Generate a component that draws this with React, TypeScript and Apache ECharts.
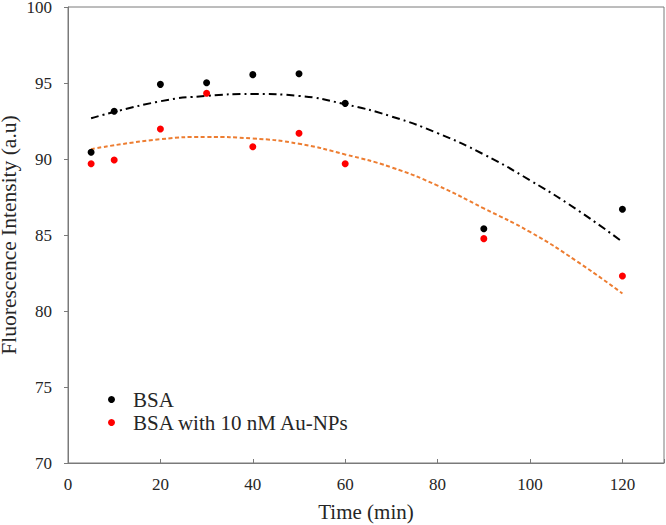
import React, { useEffect, useRef } from "react";
import * as echarts from "echarts";

const times = [5, 10, 20, 30, 40, 50, 60, 90, 120];
const bsaValues = [90.44, 93.14, 94.91, 95.02, 95.55, 95.61, 93.66, 85.41, 86.69];
const auValues = [89.69, 89.93, 91.97, 94.32, 90.81, 91.69, 89.69, 84.76, 82.3];

const trendTimes = [5, 20, 30, 40, 50, 60, 70, 80, 90, 100, 110, 120];
const bsaTrend = [92.68, 93.8, 94.15, 94.28, 94.15, 93.6, 92.8, 91.7, 90.3, 88.6, 86.7, 84.55];
const auTrend = [90.65, 91.3, 91.45, 91.35, 91.0, 90.3, 89.45, 88.25, 86.75, 85.2, 83.3, 81.15];

const seriesNames = ["BSA", "BSA with 10 nM Au-NPs"];
const xTitle = "Time (min)";
const yTitle = "Fluorescence Intensity (a.u)";

const FONT = "'Liberation Serif', 'Times New Roman', serif";
const TEXT = "#262626";
const AXIS = "#7a7a7a";

export default function App() {
  const ref = useRef<HTMLDivElement>(null);
  useEffect(() => {
    if (!ref.current) return;
    const chart = echarts.init(ref.current, undefined, { renderer: "svg" });
    const pair = (xs: number[], ys: number[]) => xs.map((x, i) => [x, ys[i]]);
    chart.setOption({
      animation: false,
      backgroundColor: "#ffffff",
      textStyle: { fontFamily: FONT },
      grid: {
        left: 68,
        top: 7,
        right: 2,
        bottom: 62,
        containLabel: false,
        outerBoundsMode: "none",
        show: true,
        borderColor: AXIS,
        borderWidth: 1,
      },
      legend: {
        data: seriesNames,
        orient: "vertical",
        left: 103,
        top: 384,
        itemWidth: 7,
        itemHeight: 7,
        itemGap: 2,
        icon: "circle",
        textStyle: {
          fontFamily: FONT,
          fontSize: 21,
          color: TEXT,
          padding: [0, 0, 0, 13],
          lineHeight: 19,
        },
      },
      xAxis: {
        type: "value",
        min: 0,
        max: 129,
        interval: 20,
        name: xTitle,
        nameLocation: "middle",
        nameGap: 38,
        nameMoveOverlap: false,
        nameTextStyle: { fontFamily: FONT, fontSize: 21, color: TEXT },
        axisLine: { lineStyle: { color: AXIS, width: 1 } },
        axisTick: { inside: true, length: 4, lineStyle: { color: AXIS } },
        axisLabel: {
          margin: 13,
          fontFamily: FONT,
          fontSize: 17,
          color: TEXT,
          formatter: (v: number) => (v % 20 === 0 ? String(v) : ""),
        },
        splitLine: { show: false },
      },
      yAxis: {
        type: "value",
        min: 70,
        max: 100,
        interval: 5,
        name: yTitle,
        nameLocation: "middle",
        nameGap: 48,
        nameMoveOverlap: false,
        nameTextStyle: { fontFamily: FONT, fontSize: 21.5, color: TEXT },
        axisLine: { show: true, lineStyle: { color: AXIS, width: 1 } },
        axisTick: { show: true, inside: false, length: 4, lineStyle: { color: AXIS } },
        axisLabel: { margin: 16, fontFamily: FONT, fontSize: 17, color: TEXT },
        splitLine: { show: false },
      },
      series: [
        {
          name: "BSA trend",
          type: "line",
          data: pair(trendTimes, bsaTrend),
          smooth: true,
          showSymbol: false,
          symbol: "none",
          lineStyle: { color: "#000000", width: 2, type: [8, 4, 2, 4] },
          z: 2,
        },
        {
          name: "Au trend",
          type: "line",
          data: pair(trendTimes, auTrend),
          smooth: true,
          showSymbol: false,
          symbol: "none",
          lineStyle: { color: "#ED7D31", width: 2, type: [4, 2.5] },
          z: 2,
        },
        {
          name: seriesNames[0],
          type: "scatter",
          data: pair(times, bsaValues),
          symbol: "circle",
          symbolSize: 7,
          itemStyle: { color: "#000000", opacity: 1 },
          z: 3,
        },
        {
          name: seriesNames[1],
          type: "scatter",
          data: pair(times, auValues),
          symbol: "circle",
          symbolSize: 7,
          itemStyle: { color: "#FF0000", opacity: 1 },
          z: 4,
        },
      ],
    });
    return () => chart.dispose();
  }, []);
  return (
    <div
      ref={ref}
      style={{ position: "fixed", left: 0, top: 0, width: 666, height: 525 }}
    />
  );
}
